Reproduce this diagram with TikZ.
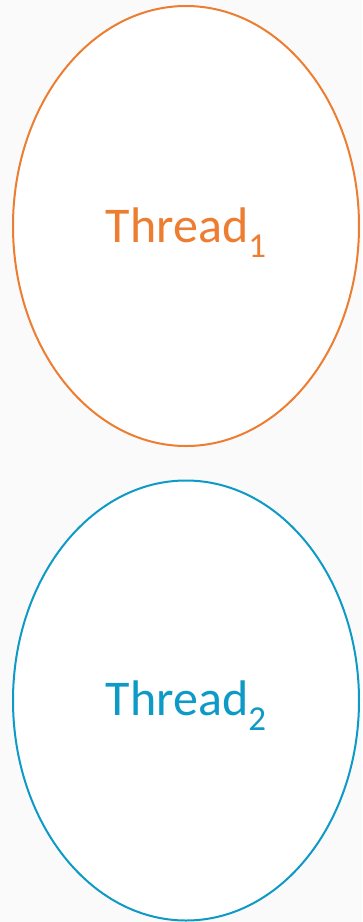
\documentclass[tikz,border=0pt]{standalone}
\usepackage{fontspec}
\setmainfont{Carlito}
\usetikzlibrary{shapes.geometric}
\definecolor{thorange}{HTML}{ED7D31}
\definecolor{thblue}{HTML}{0E9AC6}
\definecolor{bggray}{HTML}{FAFAFA}
\tikzset{
  threadshape/.style={ellipse, draw=#1, fill=white, line width=2pt, minimum width=346pt, minimum height=440pt, inner sep=0pt},
  threadlabel/.style={text=#1, font=\fontsize{50}{50}\selectfont, inner sep=0pt, anchor=base}
}
\newcommand{\thsub}[1]{{\fontsize{35}{35}\selectfont\raisebox{-15pt}{#1}}}
\begin{document}
\begin{tikzpicture}[x=1pt,y=-1pt]
\fill[bggray] (0,0) rectangle (362,922);
\useasboundingbox (0,0) rectangle (362,922);
\node[threadshape=thorange] (t1) at (186,226) {};
\node[threadshape=thblue] (t2) at (186,700.5) {};
\node[threadlabel=thorange] (l1) at (186,242) {Thread\thsub{1}};
\node[threadlabel=thblue] (l2) at (186,715) {Thread\thsub{2}};
\end{tikzpicture}
\end{document}
